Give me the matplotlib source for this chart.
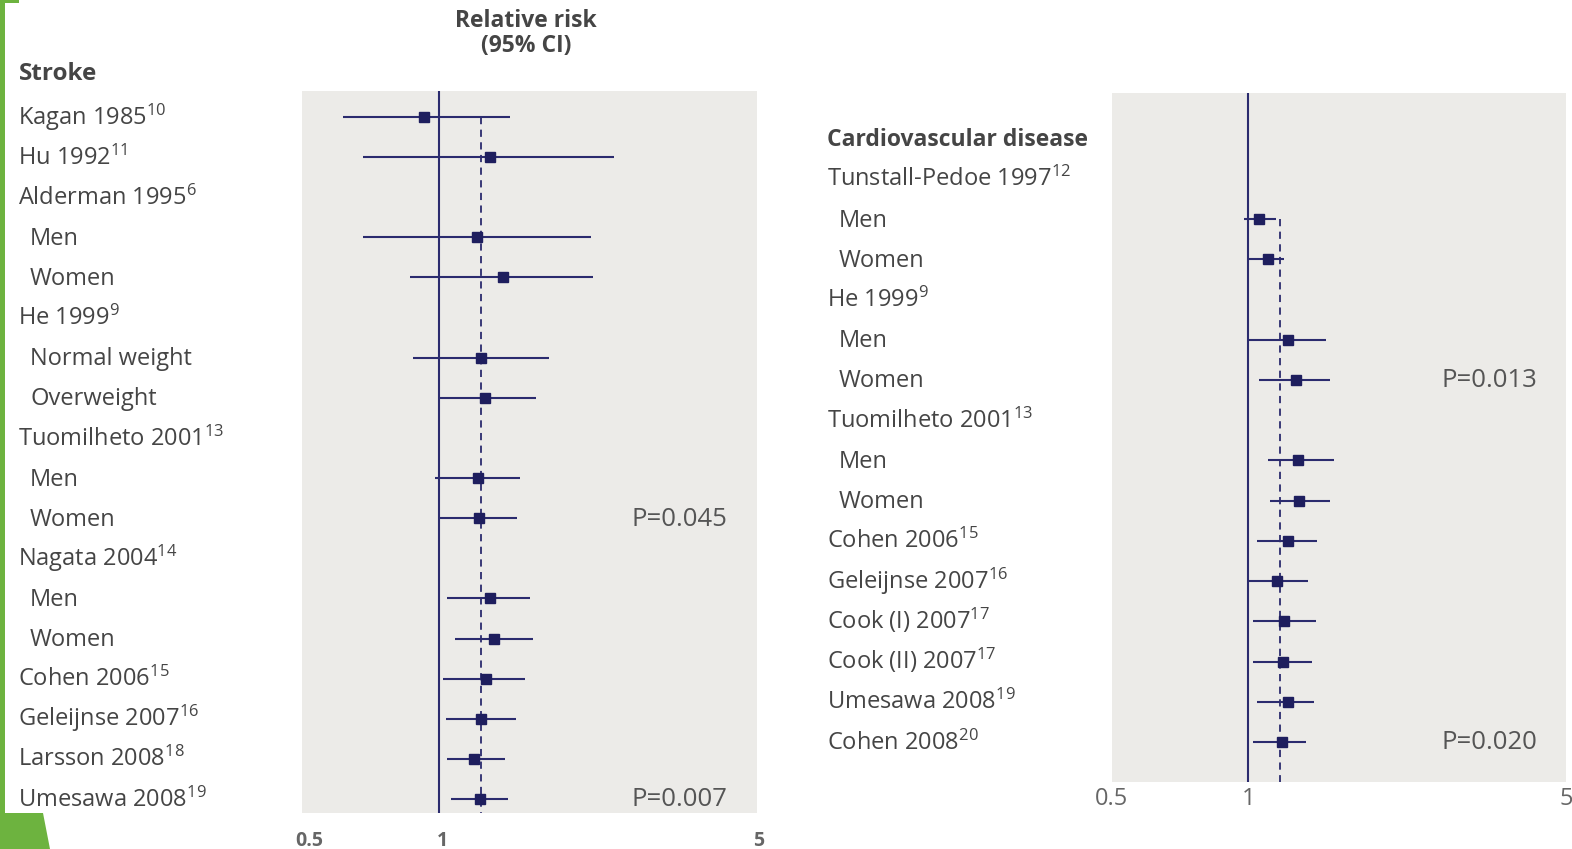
import numpy as np
import matplotlib
matplotlib.use("Agg")
import matplotlib.pyplot as plt
from matplotlib import transforms
from matplotlib.patches import Rectangle, Polygon

plt.rcParams['font.family'] = ['Open Sans', 'DejaVu Sans']
plt.rcParams['mathtext.fontset'] = 'custom'
plt.rcParams['mathtext.rm'] = 'Open Sans'
plt.rcParams['mathtext.it'] = 'Open Sans:italic'
plt.rcParams['mathtext.bf'] = 'Open Sans:bold'

# ---------------- data ----------------
stroke_labels = ["Kagan 1985", "Hu 1992", "Alderman 1995", "Men", "Women", "He 1999",
                 "Normal weight", "Overweight", "Tuomilheto 2001", "Men", "Women",
                 "Nagata 2004", "Men", "Women", "Cohen 2006", "Geleijnse 2007",
                 "Larsson 2008", "Umesawa 2008"]
stroke_refs = ["10", "11", "6", "", "", "9", "", "", "13", "", "", "14", "", "", "15", "16", "18", "19"]
stroke_indent = [0, 0, 0, 1, 1, 0, 1, 1, 0, 1, 1, 0, 1, 1, 0, 0, 0, 0]
stroke_rr = [0.930, 1.297, np.nan, 1.214, 1.382, np.nan, 1.239, 1.264, np.nan, 1.218, 1.228,
             np.nan, 1.297, 1.325, 1.269, 1.237, 1.198, 1.232]
stroke_lo = [0.615, 0.683, np.nan, 0.683, 0.866, np.nan, 0.878, 1.001, np.nan, 0.984, 1.001,
             np.nan, 1.045, 1.086, 1.020, 1.036, 1.045, 1.063]
stroke_hi = [1.435, 2.425, np.nan, 2.165, 2.180, np.nan, 1.748, 1.634, np.nan, 1.509, 1.489,
             np.nan, 1.585, 1.610, 1.548, 1.479, 1.401, 1.423]
stroke_pooled = 1.237
stroke_p = [("P=0.045", 10), ("P=0.007", 17)]

cvd_labels = ["Tunstall-Pedoe 1997", "Men", "Women", "He 1999", "Men", "Women",
              "Tuomilheto 2001", "Men", "Women", "Cohen 2006", "Geleijnse 2007",
              "Cook (I) 2007", "Cook (II) 2007", "Umesawa 2008", "Cohen 2008"]
cvd_refs = ["12", "", "", "9", "", "", "13", "", "", "15", "16", "17", "17", "19", "20"]
cvd_indent = [0, 1, 1, 0, 1, 1, 0, 1, 1, 0, 0, 0, 0, 0, 0]
cvd_rr = [np.nan, 1.057, 1.106, np.nan, 1.220, 1.270, np.nan, 1.287, 1.294, 1.220, 1.154,
          1.200, 1.193, 1.220, 1.186]
cvd_lo = [np.nan, 0.978, 1.005, np.nan, 1.005, 1.055, np.nan, 1.102, 1.114, 1.046, 1.005,
          1.023, 1.023, 1.046, 1.023]
cvd_hi = [np.nan, 1.148, 1.197, np.nan, 1.481, 1.511, np.nan, 1.541, 1.514, 1.416, 1.350,
          1.406, 1.382, 1.394, 1.341]
cvd_pooled = 1.175
cvd_p = [("P=0.013", 6), ("P=0.020", 15)]

xticks = [0.5, 1, 5]
xticklabels = ["0.5", "1", "5"]

# ---------------- style ----------------
W, H = 1572, 849
BG = "#ecebe8"
NAVY = "#2b2b6e"
MARK = "#1e1e5e"
TXT = "#454545"
GREEN = "#6db33f"

fig = plt.figure(figsize=(W / 100, H / 100), dpi=100)
fig.patch.set_facecolor("white")


def px_axes(left, top, right, bottom):
    return fig.add_axes([left / W, 1 - bottom / H, (right - left) / W, (bottom - top) / H])


def forest(ax, rr, lo, hi, pooled, first_row, ylim, msize):
    n = len(rr)
    rows = np.arange(n) + first_row
    ax.set_facecolor(BG)
    ax.set_xscale("log")
    ax.set_xlim(0.5, 5)
    ax.set_ylim(*ylim)
    for s in ax.spines.values():
        s.set_visible(False)
    ax.set_yticks([])
    ax.minorticks_off()
    ax.axvline(1, color=NAVY, lw=1.5, zorder=2)
    rr = np.array(rr); lo = np.array(lo); hi = np.array(hi)
    ok = ~np.isnan(rr)
    first = rows[ok][0]
    ax.plot([pooled, pooled], [first, ylim[0]], color=NAVY, lw=1.3,
            dashes=(4, 3), zorder=2)
    ax.hlines(rows[ok], lo[ok], hi[ok], color=NAVY, lw=1.5, zorder=3)
    ax.plot(rr[ok], rows[ok], "s", color=MARK, ms=msize, zorder=4)
    return rows


def row_trans(ax):
    tr = transforms.blended_transform_factory(fig.transFigure, ax.transData)
    return transforms.offset_copy(tr, fig=fig, y=-7.5, units="dots")


def labels(ax, names, refs, indent, rows, x0, x1, size):
    tr = row_trans(ax)
    for name, ref, ind, r in zip(names, refs, indent, rows):
        s = name + (r"$^{\mathrm{" + ref + "}}$" if ref else "")
        ax.text((x1 if ind else x0) / W, r, s, transform=tr, fontsize=size,
                color=TXT, ha="left", va="baseline", clip_on=False)


# ---------------- left: stroke ----------------
axL = px_axes(301.7, 91, 756.7, 813.3)
row_h = 40.1
ylimL = (17 + (813.3 - 799) / row_h, -(117 - 91) / row_h)
rowsL = forest(axL, stroke_rr, stroke_lo, stroke_hi, stroke_pooled, 0, ylimL, 7)
labels(axL, stroke_labels, stroke_refs, stroke_indent, rowsL, 18, 30, 17)
axL.set_xticks(xticks)
axL.set_xticklabels(xticklabels, fontsize=14, fontweight="bold", color="#666666")
axL.tick_params(axis="x", length=0, pad=13)
for lab, dx in zip(axL.get_xticklabels(), [8, 4, 2]):
    lab.set_transform(lab.get_transform() +
                      transforms.ScaledTranslation(dx / 100, 0, fig.dpi_scale_trans))
trPL = row_trans(axL)
for txt, r in stroke_p:
    axL.text(632 / W, r, txt, transform=trPL, fontsize=18.5, color="#555555",
             ha="left", va="baseline", clip_on=False)

fig.text(19 / W, 1 - 74 / H, "Stroke", fontsize=17.5, fontweight="bold", color=TXT,
         ha="left", va="center")
fig.text(526 / W, 1 - 21 / H, "Relative risk", fontsize=16.5, fontweight="bold", color=TXT,
         ha="center", va="center")
fig.text(526 / W, 1 - 46 / H, "(95% CI)", fontsize=16.5, fontweight="bold", color=TXT,
         ha="center", va="center")

# ---------------- right: cardiovascular disease ----------------
axR = px_axes(1111.7, 93.3, 1566, 781.7)
row_h2 = 40.23
ylimR = (15 + (781.7 - 742) / row_h2, 2 - (219 - 93.3) / row_h2)
rowsR = forest(axR, cvd_rr, cvd_lo, cvd_hi, cvd_pooled, 1, ylimR, 6.5)
labels(axR, cvd_labels, cvd_refs, cvd_indent, rowsR, 827, 839, 17)
axR.set_xticks(xticks)
axR.set_xticklabels(xticklabels, fontsize=17, color="#666666")
axR.tick_params(axis="x", length=0, pad=4)
trPR = row_trans(axR)
for txt, r in cvd_p:
    axR.text(1441 / W, r, txt, transform=trPR, fontsize=18.5, color="#555555",
             ha="left", va="baseline", clip_on=False)
axR.text(827 / W, 0, "Cardiovascular disease", transform=trPR, fontsize=16.5,
         fontweight="bold", color=TXT, ha="left", va="baseline", clip_on=False)

# ---------------- green decorations ----------------
fig.patches.append(Rectangle((0, 0), 5 / W, 1, transform=fig.transFigure,
                             facecolor=GREEN, edgecolor="none", zorder=0))
fig.patches.append(Rectangle((0, 1 - 3 / H), 19 / W, 3 / H, transform=fig.transFigure,
                             facecolor=GREEN, edgecolor="none", zorder=0))
fig.patches.append(Polygon([(0, 0), (50 / W, 0), (43 / W, 1 - 813 / H), (0, 1 - 813 / H)],
                           closed=True, transform=fig.transFigure,
                           facecolor=GREEN, edgecolor="none", zorder=0))

fig.savefig("out.png", dpi=100, facecolor="white")
